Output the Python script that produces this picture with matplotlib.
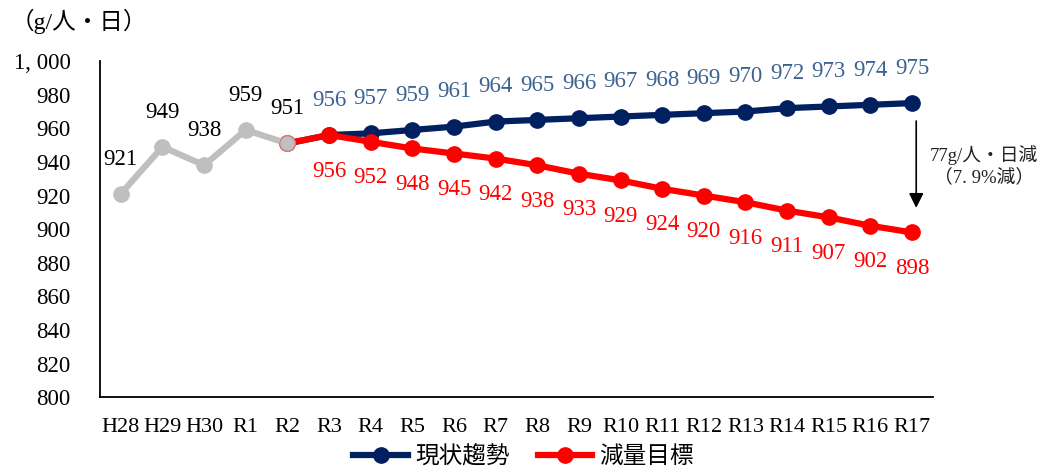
import matplotlib
matplotlib.use("Agg")
import matplotlib.pyplot as plt

SERIF_JP = ["Liberation Serif", "Noto Sans CJK JP", "DejaVu Sans"]
plt.rcParams["font.family"] = SERIF_JP

years = ["H28", "H29", "H30", "R1", "R2", "R3", "R4", "R5", "R6", "R7",
         "R8", "R9", "R10", "R11", "R12", "R13", "R14", "R15", "R16", "R17"]
actual = [921, 949, 938, 959, 951]
trend = [951, 956, 957, 959, 961, 964, 965, 966, 967, 968,
         969, 970, 972, 973, 974, 975]
target = [951, 956, 952, 948, 945, 942, 938, 933, 929, 924,
          920, 916, 911, 907, 902, 898]
yticks = [800, 820, 840, 860, 880, 900, 920, 940, 960, 980, 1000]
ytick_labels = ["800", "820", "840", "860", "880", "900", "920", "940",
                "960", "980", "1, 000"]

GRAY = "#BFBFBF"
NAVY = "#002060"
NAVY_TXT = "#3B6391"
RED = "#FF0000"

fig = plt.figure(figsize=(10.47, 4.70), dpi=100)
ax = fig.add_axes([0.0955, 0.155, 0.7955, 0.715])

x_act = list(range(len(actual)))
start = len(actual) - 1
x_fut = list(range(start, start + len(trend)))

ax.plot(x_fut, trend, color=NAVY, lw=4.5, marker="o", ms=11, zorder=3,
        label="現状趨勢")
ax.plot(x_fut, target, color=RED, lw=4.5, marker="o", ms=11, zorder=4,
        label="減量目標")
ax.plot(x_act, actual, color=GRAY, lw=4.5, marker="o", ms=11, zorder=5)
ax.plot([x_act[-1]], [actual[-1]], ls="none", marker="o", ms=11,
        mfc=GRAY, mec="#E06060", mew=0.6, zorder=6)

fs = 16.5
for xi, v in zip(x_act, actual):
    ax.annotate(f"{v}", (xi, v), xytext=(0, 25), textcoords="offset points",
                ha="center", va="center", fontsize=fs, color="black")
for xi, v in zip(x_fut[1:], trend[1:]):
    ax.annotate(f"{v}", (xi, v), xytext=(0, 25), textcoords="offset points",
                ha="center", va="center", fontsize=fs, color=NAVY_TXT)
for xi, v in zip(x_fut[1:], target[1:]):
    ax.annotate(f"{v}", (xi, v), xytext=(0, -26), textcoords="offset points",
                ha="center", va="center", fontsize=fs, color=RED)

# reduction arrow between the two scenarios in the final year
xl = x_fut[-1]
diff = trend[-1] - target[-1]
pct = diff / trend[-1] * 100
ax.annotate("", xy=(xl + 0.1, target[-1] + 13), xytext=(xl + 0.1, trend[-1] - 9),
            arrowprops=dict(arrowstyle="-|>", color="black", lw=1.2,
                            mutation_scale=22), annotation_clip=False)
ax.text(xl + 1.73, 944, f"{diff}g/人・日減", ha="center", va="center",
        fontsize=13.5, color="#222222", clip_on=False)
ax.text(xl + 1.73, 931, f"（{pct:.1f}%減）".replace(".", ". "),
        ha="center", va="center", fontsize=13.5, color="#222222", clip_on=False)

ax.set_xlim(-0.5, len(years) - 0.5)
ax.set_ylim(800, 1000)
ax.set_xticks(range(len(years)))
ax.set_xticklabels(years, fontsize=16)
ax.set_yticks(yticks)
ax.set_yticklabels(ytick_labels, fontsize=16.5)
ax.tick_params(axis="both", length=0)
ax.tick_params(axis="y", pad=21)
ax.tick_params(axis="x", pad=15)
for s in ("top", "right"):
    ax.spines[s].set_visible(False)
for s in ("left", "bottom"):
    ax.spines[s].set_color("black")
    ax.spines[s].set_linewidth(1.3)

fig.text(0.01, 0.955, "（g/人・日）", fontsize=17, ha="left", va="center")

fig.legend(loc="center", bbox_to_anchor=(0.5, 0.028), ncol=2,
           frameon=False, fontsize=17, handlelength=2.3, columnspacing=1.2,
           handletextpad=0.3, borderpad=0)

fig.savefig("out.png", dpi=100)
